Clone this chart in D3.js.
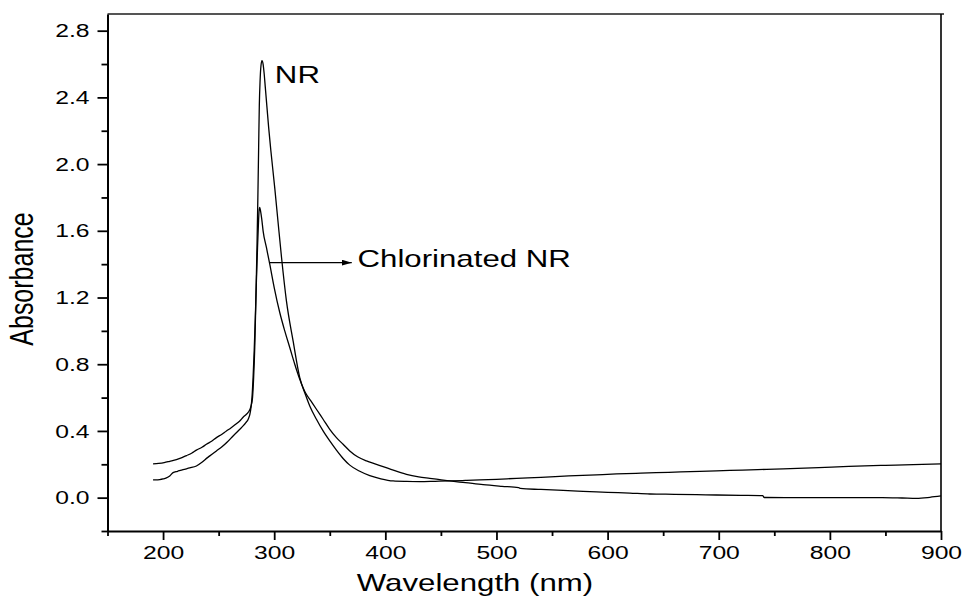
<!DOCTYPE html>
<html>
<head>
<meta charset="utf-8">
<script src="https://cdn.jsdelivr.net/npm/d3@7"></script>
<style>
  body { margin: 0; background: #fff; }
  svg text { font-family: "Liberation Sans", Arial, sans-serif; fill: #000; }
</style>
</head>
<body>
<div id="chart"></div>
<script>
// NR spectrum (wavelength in nm, absorbance)
const nrWavelength = [191, 196, 201, 206, 212, 217, 221, 226, 230, 235, 239, 244, 248, 253, 257, 261, 265, 269, 272, 275, 277, 279,
  280.5, 281.5, 282.5, 283.5, 284.5, 285.3, 286, 286.6, 287.3, 288.1, 289, 290, 291, 292, 293.5, 295, 297, 300.6, 303.5, 306.6,
  311, 317, 323, 328, 332, 338, 344, 350, 356, 362, 368, 377, 386, 396, 407, 419, 431, 445, 458, 472, 485, 500, 518, 540, 565, 590,
  608, 630, 655, 683, 710, 735, 758, 790, 817, 850, 875, 900];
const nrAbsorbance = [0.202, 0.205, 0.210, 0.218, 0.228, 0.240, 0.252, 0.268, 0.285, 0.302, 0.320, 0.340, 0.360, 0.380, 0.400, 0.418,
  0.438, 0.460, 0.482, 0.500, 0.515, 0.545, 0.60, 0.72, 0.90, 1.18, 1.50, 1.80, 2.10, 2.35, 2.50, 2.59, 2.62, 2.60, 2.54, 2.46, 2.34,
  2.22, 2.08, 1.85, 1.65, 1.44, 1.18, 0.94, 0.72, 0.62, 0.55, 0.47, 0.40, 0.34, 0.285, 0.235, 0.195, 0.158, 0.132, 0.113, 0.10, 0.097,
  0.096, 0.098, 0.10, 0.103, 0.106, 0.110, 0.116, 0.122, 0.130, 0.137, 0.142, 0.147, 0.152, 0.158, 0.163, 0.168, 0.172, 0.180, 0.188,
  0.194, 0.198, 0.202];

// Chlorinated NR spectrum
const clWavelength = [191, 194, 197, 200, 203, 206, 209, 213, 218, 224, 230, 235, 240, 244, 248, 253, 258, 263, 269, 272, 274.5, 276.6,
  278.7, 280, 281, 282, 283, 284, 285, 285.8, 286.4, 287, 287.7, 288.8, 290, 293, 296, 300, 305, 309.5, 314, 318.5, 323, 328, 333, 338,
  344, 350, 356, 362, 368, 375, 383, 392, 405, 419, 430, 440, 449, 458, 472, 488, 505, 520, 521.5, 540, 560, 578, 600, 620, 638, 660,
  680, 698, 720, 739.5, 741, 760, 788, 820, 847, 865, 878, 890, 900];
const clAbsorbance = [0.106, 0.106, 0.108, 0.112, 0.118, 0.130, 0.150, 0.158, 0.168, 0.178, 0.190, 0.212, 0.240, 0.260, 0.280, 0.305,
  0.335, 0.370, 0.410, 0.430, 0.450, 0.470, 0.520, 0.60, 0.72, 0.88, 1.08, 1.30, 1.50, 1.64, 1.72, 1.74, 1.72, 1.67, 1.60, 1.50, 1.40,
  1.26, 1.11, 1.00, 0.90, 0.80, 0.71, 0.63, 0.58, 0.53, 0.47, 0.41, 0.36, 0.32, 0.28, 0.245, 0.22, 0.20, 0.17, 0.14, 0.125, 0.116,
  0.108, 0.10, 0.09, 0.078, 0.068, 0.060, 0.055, 0.049, 0.043, 0.038, 0.032, 0.027, 0.022, 0.020, 0.018, 0.016, 0.014, 0.012, 0.001,
  0.000, 0.000, 0.000, 0.000, -0.002, -0.004, 0.002, 0.010];

// Ticks
const xMajorTicks = [200, 300, 400, 500, 600, 700, 800, 900];
const xMinorTicks = [150, 250, 350, 450, 550, 650, 750, 850];
const yMajorTicks = [0.0, 0.4, 0.8, 1.2, 1.6, 2.0, 2.4, 2.8];
const yMinorTicks = [-0.2, 0.2, 0.6, 1.0, 1.4, 1.8, 2.2, 2.6];

// Annotations (data coordinates)
const nrLabel = { text: "NR", x: 300.6, y: 2.488 };
const clLabel = { text: "Chlorinated NR", x: 375, y: 1.385 };
const clArrow = { x1: 295.6, x2: 369.8, y: 1.409 };

const width = 963;
const height = 599;
const stretch = 1.3; // text in the picture is widened horizontally

const svg = d3.select("#chart").append("svg")
  .attr("width", width)
  .attr("height", height);

const x = d3.scaleLinear().domain([150, 900]).range([107.5, 941]);
const y = d3.scaleLinear().domain([-0.2, 2.9]).range([531, 14]);

// Frame: top and right
svg.append("line")
  .attr("x1", x(150)).attr("x2", 944)
  .attr("y1", y(2.9)).attr("y2", y(2.9))
  .attr("stroke", "#555").attr("stroke-width", 2);
svg.append("line")
  .attr("x1", x(900)).attr("x2", x(900))
  .attr("y1", y(2.9)).attr("y2", y(-0.2))
  .attr("stroke", "#000").attr("stroke-width", 1.6);

// Bottom axis
const xAxis = svg.append("g")
  .attr("transform", `translate(0,${y(-0.2)})`)
  .call(d3.axisBottom(x).tickValues(xMajorTicks).tickSize(9).tickSizeOuter(0).tickPadding(6));
svg.append("g")
  .attr("transform", `translate(0,${y(-0.2)})`)
  .call(d3.axisBottom(x).tickValues(xMinorTicks).tickSize(5).tickSizeOuter(0).tickFormat(""))
  .call((g) => g.select(".domain").remove());

// Left axis
const yAxis = svg.append("g")
  .attr("transform", `translate(${x(150)},0)`)
  .call(d3.axisLeft(y).tickValues(yMajorTicks).tickSize(10).tickSizeOuter(0).tickFormat(d3.format(".1f")));
svg.append("g")
  .attr("transform", `translate(${x(150)},0)`)
  .call(d3.axisLeft(y).tickValues(yMinorTicks).tickSize(6).tickSizeOuter(0).tickFormat(""))
  .call((g) => g.select(".domain").remove());

svg.selectAll(".domain").attr("stroke-width", 2).attr("stroke", "#000");
svg.selectAll(".tick line").attr("stroke-width", 1.8).attr("stroke", "#000");

xAxis.selectAll("text")
  .attr("font-size", 19)
  .attr("transform", `scale(${stretch},1)`);
yAxis.selectAll("text")
  .attr("font-size", 19)
  .attr("x", -18 / stretch)
  .attr("transform", `scale(${stretch},1)`);

// Curves
const line = d3.line()
  .x((d) => x(d[0]))
  .y((d) => y(d[1]))
  .curve(d3.curveMonotoneX);

const nrData = nrWavelength.map((w, i) => [w, nrAbsorbance[i]]);
const clData = clWavelength.map((w, i) => [w, clAbsorbance[i]]);

[nrData, clData].forEach((data) => {
  svg.append("path")
    .datum(data)
    .attr("fill", "none")
    .attr("stroke", "#000")
    .attr("stroke-width", 1.3)
    .attr("d", line);
});

// Arrow to the chlorinated label
svg.append("defs").append("marker")
  .attr("id", "head")
  .attr("viewBox", "0 0 10 6")
  .attr("refX", 10).attr("refY", 3)
  .attr("markerWidth", 10).attr("markerHeight", 6)
  .attr("markerUnits", "userSpaceOnUse")
  .attr("orient", "auto")
  .append("path")
  .attr("d", "M0,0 L10,3 L0,6 Z")
  .attr("fill", "#000");

svg.append("line")
  .attr("x1", x(clArrow.x1)).attr("x2", x(clArrow.x2))
  .attr("y1", y(clArrow.y)).attr("y2", y(clArrow.y))
  .attr("stroke", "#000").attr("stroke-width", 1.3)
  .attr("marker-end", "url(#head)");

// Labels
function stretchedText(tx, ty, str, size, anchor, rotate) {
  const rot = rotate ? ` rotate(${rotate})` : "";
  svg.append("text")
    .attr("transform", `translate(${tx},${ty})${rot} ${rotate ? `scale(1,${stretch})` : `scale(${stretch},1)`}`)
    .attr("text-anchor", anchor)
    .attr("font-size", size)
    .text(str);
}

stretchedText(x(nrLabel.x), y(nrLabel.y), nrLabel.text, 24, "start");
stretchedText(x(clLabel.x), y(clLabel.y), clLabel.text, 24, "start");
stretchedText(475, 591, "Wavelength (nm)", 24, "middle");
stretchedText(33, 279, "Absorbance", 25, "middle", -90);
</script>
</body>
</html>
